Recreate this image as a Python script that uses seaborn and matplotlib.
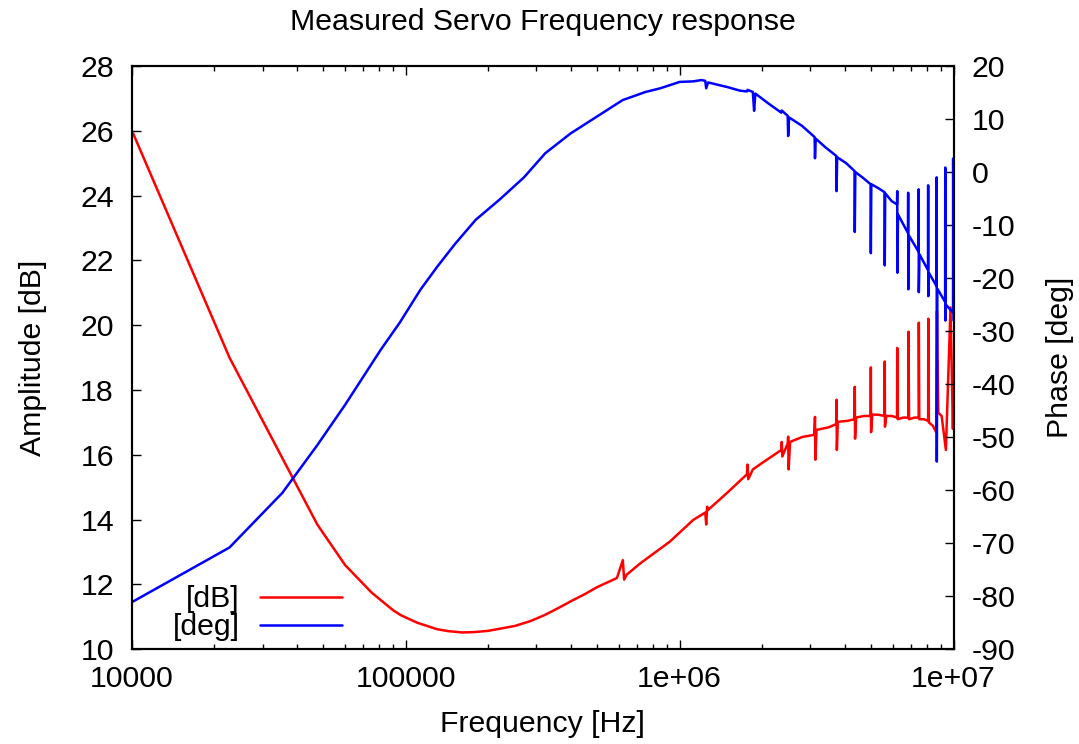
import matplotlib
matplotlib.use("Agg")
import matplotlib.pyplot as plt
import seaborn as sns
from matplotlib.ticker import FixedLocator, FixedFormatter, LogLocator, NullFormatter

# ---------------- data ----------------
freq_db = [1.0e4, 2.27e4, 3.54e4, 4.75e4, 6.0e4, 7.5e4, 9.0e4, 9.6e4, 1.1e5, 1.3e5,
           1.43e5, 1.6e5, 1.77e5, 2.0e5, 2.5e5, 2.85e5, 3.2e5, 3.6e5, 4.0e5, 4.5e5,
           5.0e5, 5.9e5, 6.2e5, 6.27e5, 6.4e5, 7.2e5,
           9.2e5, 1.12e6, 1.24e6, 1.25e6, 1.26e6, 1.27e6, 1.5e6, 1.76e6, 1.77e6, 1.78e6,
           1.85e6, 2.0e6, 2.35e6, 2.36e6, 2.37e6, 2.48e6, 2.49e6, 2.5e6, 2.53e6, 2.8e6,
           3.1e6, 3.12e6, 3.13e6, 3.16e6, 3.5e6, 3.73e6, 3.74e6, 3.75e6, 3.78e6, 4.1e6,
           4.35e6, 4.36e6, 4.37e6, 4.41e6, 4.7e6, 4.98e6, 4.99e6, 5.0e6, 5.05e6, 5.3e6,
           5.6e6, 5.61e6, 5.62e6, 5.68e6, 5.95e6, 6.22e6, 6.23e6, 6.26e6, 6.55e6, 6.84e6,
           6.85e6, 6.88e6, 7.2e6, 7.46e6, 7.47e6, 7.5e6, 7.8e6, 8.08e6, 8.09e6, 8.13e6,
           8.4e6, 8.65e6, 8.7e6, 8.8e6, 9.05e6, 9.38e6, 9.75e6, 9.95e6, 1.0e7]
amp_db = [26.0, 19.0, 15.9, 13.85, 12.6, 11.75, 11.2, 11.05, 10.82, 10.62,
          10.56, 10.52, 10.53, 10.57, 10.72, 10.87, 11.05, 11.27, 11.48, 11.7,
          11.92, 12.2, 12.75, 12.15, 12.3, 12.66,
          13.32, 13.99, 14.22, 13.85, 14.4, 14.3, 14.85, 15.4, 15.7, 15.25,
          15.55, 15.75, 16.15, 16.4, 15.95, 16.35, 16.56, 15.55, 16.4, 16.55,
          16.62, 17.17, 15.85, 16.77, 16.85, 16.95, 17.7, 16.15, 17.02, 17.05,
          17.1, 18.1, 16.5, 17.15, 17.2, 17.2, 18.7, 16.7, 17.24, 17.24,
          17.2, 18.88, 16.87, 17.2, 17.2, 17.15, 19.3, 17.1, 17.15, 17.15,
          19.8, 17.1, 17.15, 17.15, 20.08, 17.1, 17.1, 17.05, 20.2, 17.0,
          16.9, 16.7, 20.43, 17.3, 17.2, 16.15, 20.55, 16.8, 18.0]

freq_deg = [1.0e4, 2.27e4, 3.54e4, 4.75e4, 6.0e4, 8.1e4, 9.5e4, 1.13e5, 1.3e5, 1.51e5,
            1.8e5, 2.21e5, 2.7e5, 3.23e5, 4.0e5, 5.0e5, 6.19e5, 7.5e5, 8.5e5,
            1.0e6, 1.12e6, 1.2e6, 1.24e6, 1.25e6, 1.27e6, 1.5e6,
            1.66e6, 1.76e6, 1.77e6, 1.85e6, 1.87e6, 1.89e6, 2.1e6, 2.35e6, 2.36e6, 2.48e6,
            2.49e6, 2.51e6, 2.8e6, 3.11e6, 3.12e6, 3.14e6, 3.4e6, 3.73e6, 3.74e6, 3.76e6,
            4.05e6, 4.35e6, 4.36e6, 4.38e6, 4.7e6, 4.98e6, 4.99e6, 5.01e6, 5.3e6, 5.6e6,
            5.61e6, 5.63e6, 5.95e6, 6.22e6, 6.23e6, 6.24e6, 6.27e6, 6.82e6, 6.83e6, 6.84e6,
            6.88e6, 7.45e6, 7.46e6, 7.47e6, 7.51e6, 8.07e6, 8.08e6, 8.09e6, 8.13e6, 8.67e6,
            8.68e6, 8.69e6, 8.73e6, 9.32e6, 9.33e6, 9.34e6, 9.38e6, 9.96e6, 9.97e6, 1.0e7]
phase_deg = [-81.1, -70.8, -60.5, -51.5, -43.9, -33.5, -28.4, -22.2, -17.9, -13.6,
             -9.0, -5.1, -1.0, 3.55, 7.3, 10.5, 13.57, 15.1, 15.8,
             17.0, 17.1, 17.35, 17.2, 15.8, 16.9, 16.0,
             15.35, 15.2, 15.5, 15.1, 11.55, 14.8, 13.0, 11.2, 11.6, 10.6,
             6.8, 10.3, 8.7, 6.6, 2.6, 6.3, 4.7, 3.05, -3.6, 2.8,
             1.7, 0.2, -11.3, 0.0, -1.2, -2.3, -15.3, -2.3, -3.0, -3.8,
             -17.6, -4.0, -5.5, -6.1, -3.6, -19.0, -8.0, -11.5, -3.9, -22.1,
             -12.0, -15.0, -3.25, -22.65, -15.5, -18.5, -2.5, -23.4, -19.0, -21.5,
             -1.0, -54.6, -22.0, -24.5, 0.85, -28.0, -25.0, -26.5, 2.55, -28.0]

x_tick_values = [1e4, 1e5, 1e6, 1e7]
x_tick_labels = ["10000", "100000", "1e+06", "1e+07"]
y_left_ticks = [10, 12, 14, 16, 18, 20, 22, 24, 26, 28]
y_right_ticks = [-90, -80, -70, -60, -50, -40, -30, -20, -10, 0, 10, 20]

# ---------------- style ----------------
sns.set_theme(style="white")
plt.rcParams['font.family'] = ['Liberation Sans', 'DejaVu Sans']
plt.rcParams['axes.unicode_minus'] = False
for k in ['text.color', 'axes.labelcolor', 'xtick.color', 'ytick.color', 'axes.edgecolor']:
    plt.rcParams[k] = 'black'

FS = 21.8
LW = 1.8
fig = plt.figure(figsize=(10.79, 7.44), dpi=100)
ax = fig.add_axes([0.12234, 0.12729, 0.76135, 0.784])

sns.lineplot(x=freq_db, y=amp_db, ax=ax, color='#ff0000', linewidth=LW,
             estimator=None, sort=False, label='[dB]', legend=False)
ax.set_xscale('log')
ax.set_xlim(1e4, 1e7)
ax.set_ylim(10, 28)

ax2 = ax.twinx()
sns.lineplot(x=freq_deg, y=phase_deg, ax=ax2, color='#0000ff', linewidth=LW,
             estimator=None, sort=False, label='[deg]', legend=False)
ax2.set_ylim(-90, 20)

# x ticks
ax.xaxis.set_major_locator(FixedLocator(x_tick_values))
ax.xaxis.set_major_formatter(FixedFormatter(x_tick_labels))
ax.xaxis.set_minor_locator(LogLocator(base=10, subs=range(2, 10)))
ax.xaxis.set_minor_formatter(NullFormatter())
ax.tick_params(axis='x', which='major', direction='in', top=True, bottom=True,
               length=6.5, width=1.0, labelsize=FS, pad=11.5)
ax.tick_params(axis='x', which='minor', direction='in', top=True, bottom=True,
               length=3.6, width=1.0)

# y ticks
ax.set_yticks(y_left_ticks)
ax.tick_params(axis='y', which='both', direction='in', left=True, right=False,
               length=6.5, width=1.0, labelsize=FS, pad=13)
ax2.set_yticks(y_right_ticks)
ax2.tick_params(axis='y', which='both', direction='in', right=True, left=False,
                length=6.5, width=1.0, labelsize=FS, pad=13)

for a in (ax, ax2):
    for s in a.spines.values():
        s.set_color('black')
        s.set_linewidth(1.5)
    a.grid(False)

ax.set_title("Measured Servo Frequency response", fontsize=FS, pad=26)
ax.set_xlabel("Frequency [Hz]", fontsize=FS)
ax.set_ylabel("Amplitude [dB]", fontsize=FS)
ax2.set_ylabel("Phase [deg]", fontsize=FS)
ax.xaxis.set_label_coords(0.5, -0.104)
ax.yaxis.set_label_coords(-0.1035, 0.5)
ax2.yaxis.set_label_coords(1.113, 0.5)

h1, l1 = ax.get_legend_handles_labels()
h2, l2 = ax2.get_legend_handles_labels()
leg = ax2.legend(h1 + h2, l1 + l2, loc='lower right', bbox_to_anchor=(0.2556, 0.0134),
                 frameon=False, markerfirst=False, fontsize=FS, handlelength=2.7,
                 handletextpad=0.67, labelspacing=0.0, borderpad=0, borderaxespad=0)

fig.savefig("out.png", dpi=100)
